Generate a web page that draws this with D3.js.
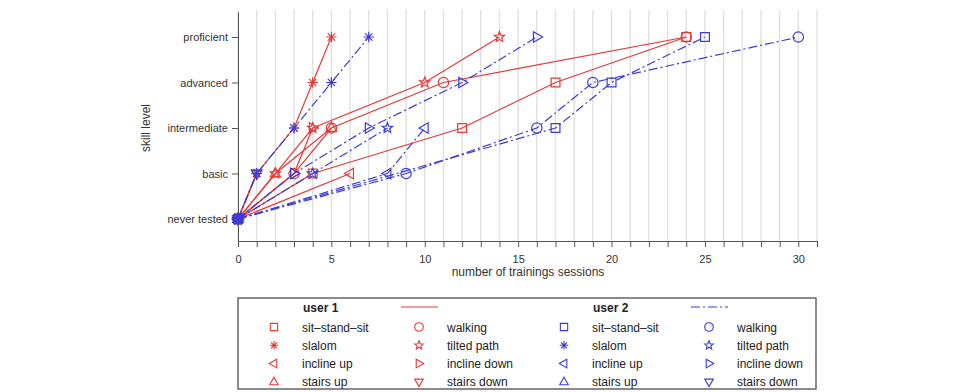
<!DOCTYPE html>
<html>
<head>
<meta charset="utf-8">
<script src="https://cdn.jsdelivr.net/npm/d3@7"></script>
<style>
body { margin: 0; background: #fff; }
svg { font-family: "Liberation Sans", Arial, Helvetica, sans-serif; }
.grid { stroke: #e2e2e2; stroke-width: 1.5; }
.axis path, .axis line { stroke: #555; }
.axis text { font-size: 11px; fill: #333; }
</style>
</head>
<body>
<svg width="962" height="392"></svg>
<script>
// skill levels (y), index = level
var levels = ["never tested", "basic", "intermediate", "advanced", "proficient"];
var activities = ["sit\u2013stand\u2013sit", "walking", "slalom", "tilted path",
                  "incline up", "incline down", "stairs up", "stairs down"];
var shapes = ["square", "circle", "asterisk", "star", "left", "right", "up", "down"];

// session number at which each level was reached (null = level skipped)
var user1 = [
    [0, 4, 12, 17, 24],
    [0, 3, 5, 11, 24],
    [0, 1, 3, 4, 5],
    [0, 2, 4, 10, 14],
    [0, 6],
    [0, 3, 4],
    [0, 2, 5],
    [0, 1]
];
var user2 = [
    [0, null, 17, 20, 25],
    [0, 9, 16, 19, 30],
    [0, 1, 3, 5, 7],
    [0, 4, 8],
    [0, 8, 10],
    [0, 3, 7, 12, 16],
    [0],
    [0, 1]
];
var xTicks = d3.range(0, 32);

var red = "#e33a3a", blue = "#3c3cd8";
var svg = d3.select("svg");

var x = d3.scaleLinear().domain([0, 31]).range([238, 817]);
var y = d3.scaleLinear().domain([-0.4835, 4.55]).range([241, 12]);

svg.append("g").selectAll("line")
    .data(xTicks).enter().append("line")
    .attr("class", "grid")
    .attr("x1", function(d) { return x(d); }).attr("x2", function(d) { return x(d); })
    .attr("y1", 10).attr("y2", 241);

svg.append("g").attr("class", "axis")
    .attr("transform", "translate(0,241)")
    .call(d3.axisBottom(x).tickValues(xTicks).tickSize(6).tickSizeOuter(0).tickPadding(8)
          .tickFormat(function(d) { return d % 5 === 0 ? d : ""; }));

svg.append("g").attr("class", "axis")
    .attr("transform", "translate(238,0)")
    .call(d3.axisLeft(y).tickValues(d3.range(levels.length)).tickSize(6).tickSizeOuter(0).tickPadding(4)
          .tickFormat(function(d) { return levels[d]; }));

svg.append("text").attr("x", 528).attr("y", 276).attr("text-anchor", "middle")
    .attr("font-size", 12).attr("fill", "#333").text("number of trainings sessions");
svg.append("text").attr("transform", "translate(150,128) rotate(-90)").attr("text-anchor", "middle")
    .attr("font-size", 12).attr("fill", "#333").text("skill level");

function markerPath(shape, r) {
    var h = r * 0.866;
    if (shape == "square") return "M" + -r*0.85 + "," + -r*0.85 + "h" + r*1.7 + "v" + r*1.7 + "h" + -r*1.7 + "Z";
    if (shape == "circle") return "M" + r + ",0A" + r + "," + r + " 0 1,1 " + -r + ",0A" + r + "," + r + " 0 1,1 " + r + ",0Z";
    if (shape == "up") return "M0," + -r*1.1 + "L" + r + "," + r*0.65 + "L" + -r + "," + r*0.65 + "Z";
    if (shape == "down") return "M0," + r*1.1 + "L" + r + "," + -r*0.65 + "L" + -r + "," + -r*0.65 + "Z";
    if (shape == "left") return "M" + -r*1.1 + ",0L" + r*0.65 + "," + -r + "L" + r*0.65 + "," + r + "Z";
    if (shape == "right") return "M" + r*1.1 + ",0L" + -r*0.65 + "," + -r + "L" + -r*0.65 + "," + r + "Z";
    if (shape == "asterisk") {
        var a = r * 0.7;
        return "M0," + -r + "V" + r + "M" + -r + ",0H" + r +
            "M" + -a + "," + -a + "L" + a + "," + a + "M" + -a + "," + a + "L" + a + "," + -a;
    }
    // star
    var p = "";
    for (var i = 0; i < 10; i++) {
        var rr = i % 2 ? r * 0.45 : r * 1.05;
        var ang = -Math.PI / 2 + i * Math.PI / 5;
        p += (i ? "L" : "M") + rr * Math.cos(ang) + "," + rr * Math.sin(ang);
    }
    return p + "Z";
}

function points(series) {
    var pts = [];
    series.forEach(function(v, lvl) { if (v !== null) pts.push([v, lvl]); });
    return pts;
}

var line = d3.line().x(function(d) { return x(d[0]); }).y(function(d) { return y(d[1]); });

function drawUser(data, color, dash) {
    var g = svg.append("g");
    data.forEach(function(series) {
        g.append("path").attr("d", line(points(series)))
            .attr("fill", "none").attr("stroke", color).attr("stroke-width", 1.2)
            .attr("stroke-dasharray", dash);
    });
    data.forEach(function(series, i) {
        g.selectAll(null).data(points(series)).enter().append("path")
            .attr("transform", function(d) { return "translate(" + x(d[0]) + "," + y(d[1]) + ")"; })
            .attr("d", markerPath(shapes[i], 5.2))
            .attr("fill", "none").attr("stroke", color).attr("stroke-width", 1.2);
    });
}

drawUser(user1, red, null);
drawUser(user2, blue, "9,3,2,3");

// legend
var leg = svg.append("g");
leg.append("rect").attr("x", 238).attr("y", 298).attr("width", 578).attr("height", 91)
    .attr("fill", "none").attr("stroke", "#666").attr("stroke-width", 1.5);

var users = [{name: "user 1", color: red, dash: null, x0: 274},
             {name: "user 2", color: blue, dash: "9,3,2,3", x0: 564}];
users.forEach(function(u) {
    leg.append("text").attr("x", u.x0 + 29).attr("y", 312).attr("font-size", 12)
        .attr("font-weight", "bold").attr("fill", "#222").text(u.name);
    leg.append("line").attr("x1", u.x0 + 127).attr("x2", u.x0 + 164).attr("y1", 307).attr("y2", 307)
        .attr("stroke", u.color).attr("stroke-width", 1.2).attr("stroke-dasharray", u.dash);
    activities.forEach(function(a, i) {
        var mx = u.x0 + (i % 2) * 145, my = 327 + Math.floor(i / 2) * 18.3;
        leg.append("path").attr("transform", "translate(" + mx + "," + my + ")")
            .attr("d", markerPath(shapes[i], 4.3))
            .attr("fill", "none").attr("stroke", u.color).attr("stroke-width", 1.1);
        leg.append("text").attr("x", mx + 28).attr("y", my + 4.5).attr("font-size", 12)
            .attr("fill", "#222").text(a);
    });
});
</script>
</body>
</html>
